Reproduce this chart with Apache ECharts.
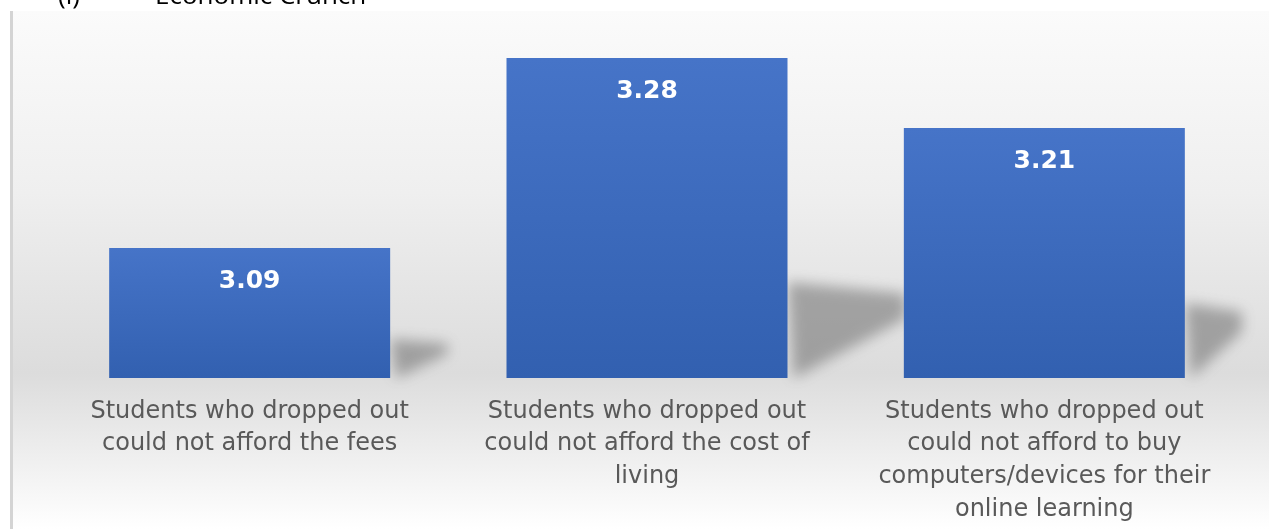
<!DOCTYPE html>
<html><head><meta charset="utf-8">
<script src="https://cdn.jsdelivr.net/npm/echarts@6/dist/echarts.min.js"></script>
<style>html,body{margin:0;padding:0;background:#fff}#c{width:1269px;height:529px}</style>
</head><body><div id="c"></div>
<script>
const categories = [
  "Students who dropped out\ncould not afford the fees",
  "Students who dropped out\ncould not afford the cost of\nliving",
  "Students who dropped out\ncould not afford to buy\ncomputers/devices for their\nonline learning"
];
const values = [3.09, 3.28, 3.21];
const yMin = 2.96, yMax = 3.30;
const headingParts = ["(i)", "Economic Crunch"];

const chart = echarts.init(document.getElementById('c'));
const BAR_W = 281;
const OFF = 3000;
chart.setOption({
  animation: false,
  graphic: [
    {type:'rect', z:-10, shape:{x:10,y:11,width:1259,height:518},
     style:{fill:{type:'linear',x:0,y:0,x2:0,y2:1,colorStops:[
       {offset:0,color:'#fbfbfb'},{offset:0.35,color:'#efefef'},{offset:0.7,color:'#dcdcdc'},{offset:1,color:'#ffffff'}]}}},
    {type:'rect', z:-9, shape:{x:10,y:11,width:3,height:518}, style:{fill:'#d4d4d4'}},
    {type:'text', left:58, top:-16, style:{text:headingParts[0], font:'26px "Open Sans"', fill:'#000'}},
    {type:'text', left:155, top:-16, style:{text:headingParts[1], font:'26px "Open Sans"', fill:'#000'}}
  ],
  grid: {left:51, right:26, top:38, bottom:151, containLabel:false},
  xAxis: {type:'category', data:categories,
    axisLine:{show:false}, axisTick:{show:false},
    axisLabel:{interval:0, margin:17, color:'#595959', fontFamily:'DejaVu Sans', fontSize:24, lineHeight:32.7}},
  yAxis: {type:'value', min:yMin, max:yMax, show:false},
  series: [
    {type:'custom', z:1, clip:false, data: values.map((v,i)=>[i,v]),
     renderItem:function(params, api){
       const top = api.coord([api.value(0), api.value(1)]);
       const bot = api.coord([api.value(0), yMin]);
       const xr = top[0] + BAR_W/2;
       const bh = bot[1]-top[1];
       const h = bh * 0.3;
       const w = Math.min(bh * 0.32 + 16, 1242 - xr);
       const yb = bot[1];
       const pts = [[xr, yb-h],[xr+w, yb-h*0.88],[xr+w, yb-h*0.62],[xr+6, yb]].map(p=>[p[0]-OFF,p[1]]);
       return {type:'polygon', shape:{points:pts},
         style:{fill:'#000', shadowBlur:14, shadowOffsetX:OFF, shadowColor:'rgba(95,95,95,0.5)'}};
     }},
    {type:'bar', z:2, data: values, barWidth:BAR_W,
     itemStyle:{color:{type:'linear',x:0,y:0,x2:0,y2:1,colorStops:[{offset:0,color:'#4674c8'},{offset:1,color:'#3260b0'}]}},
     label:{show:true, position:'insideTop', distance:21, color:'#fff', fontFamily:'DejaVu Sans', fontWeight:'bold', fontSize:25,
       formatter:p=>p.value.toFixed(2)}}
  ]
});
</script></body></html>
